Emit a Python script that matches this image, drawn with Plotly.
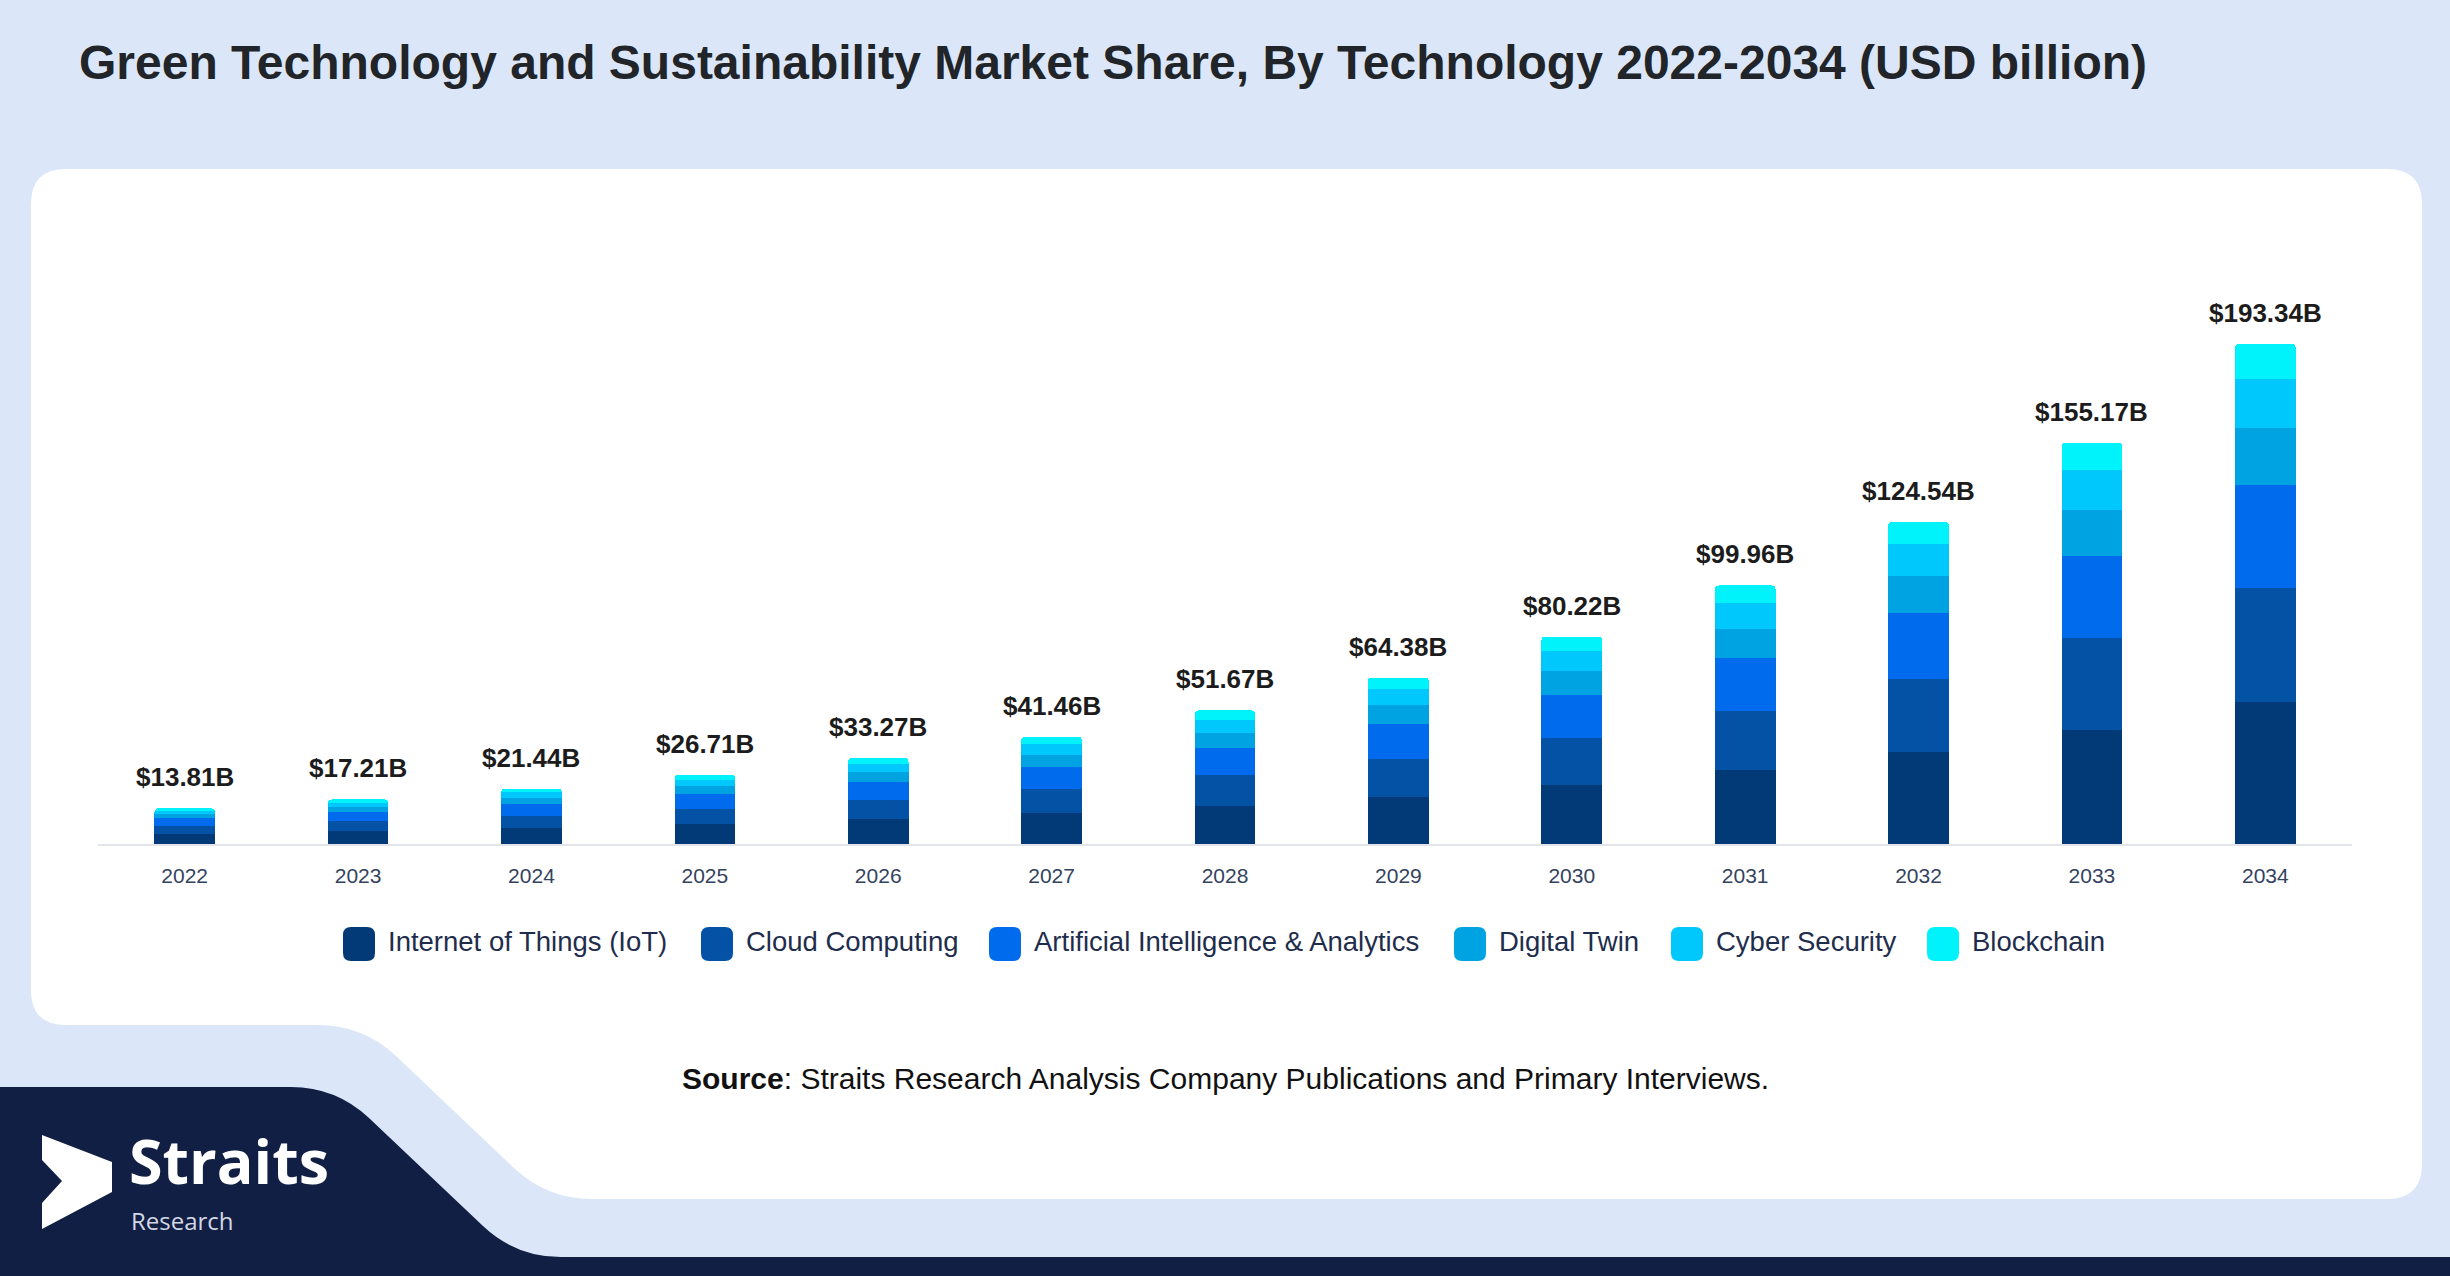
import plotly.graph_objects as go

# ---------------- data ----------------
years = ["2022", "2023", "2024", "2025", "2026", "2027", "2028",
         "2029", "2030", "2031", "2032", "2033", "2034"]
totals = [13.81, 17.21, 21.44, 26.71, 33.27, 41.46, 51.67,
          64.38, 80.22, 99.96, 124.54, 155.17, 193.34]
total_labels = ["$13.81B", "$17.21B", "$21.44B", "$26.71B", "$33.27B", "$41.46B", "$51.67B",
                "$64.38B", "$80.22B", "$99.96B", "$124.54B", "$155.17B", "$193.34B"]

iot = [3.94, 4.90, 6.11, 7.61, 9.48, 11.82, 14.73, 18.35, 22.86, 28.49, 35.49, 44.22, 55.10]
cloud = [3.15, 3.92, 4.89, 6.09, 7.59, 9.45, 11.78, 14.68, 18.29, 22.79, 28.40, 35.38, 44.08]
ai_analytics = [2.83, 3.53, 4.40, 5.48, 6.82, 8.50, 10.59, 13.20, 16.45, 20.49, 25.53, 31.81, 39.63]
digital_twin = [1.59, 1.98, 2.47, 3.07, 3.83, 4.77, 5.94, 7.40, 9.23, 11.50, 14.32, 17.84, 22.23]
cyber_security = [1.35, 1.69, 2.10, 2.62, 3.26, 4.06, 5.06, 6.31, 7.86, 9.80, 12.20, 15.21, 18.95]
blockchain = [0.95, 1.19, 1.47, 1.84, 2.29, 2.86, 3.57, 4.44, 5.53, 6.89, 8.60, 10.71, 13.35]

series_names = ["Internet of Things (IoT)", "Cloud Computing",
                "Artificial Intelligence & Analytics", "Digital Twin",
                "Cyber Security", "Blockchain"]
series_values = [iot, cloud, ai_analytics, digital_twin, cyber_security, blockchain]

title_text = "Green Technology and Sustainability Market Share, By Technology 2022-2034 (USD billion)"
source_text = "<b>Source</b>: Straits Research Analysis Company Publications and Primary Interviews."

# ---------------- style ----------------
colors = ["#023a78", "#0352a6", "#006ced", "#00a3e2", "#00c8fd", "#00f3fb"]
FONT = "Liberation Sans, Arial, Helvetica, sans-serif"
LOGO_FONT = "Open Sans, sans-serif"
BG = "#dbe7f8"
NAVY = "#121f45"

W, H = 2450, 1276
ML, MR, MT, MB = 98, 98, 169, 432


def px(x):
    return (x - ML) / (W - ML - MR)


def py(y):
    return (H - MB - y) / (H - MT - MB)


def path(cmds):
    out = []
    for c, pts in cmds:
        coords = []
        for i in range(0, len(pts), 2):
            coords.append(f"{px(pts[i]):.5f},{py(pts[i + 1]):.5f}")
        out.append(c + " " + " ".join(coords) if coords else c)
    return " ".join(out)


fig = go.Figure()
for name, vals, col in zip(series_names, series_values, colors):
    fig.add_trace(go.Bar(x=years, y=vals, name=name,
                         marker=dict(color=col, line=dict(width=0)),
                         showlegend=False))

shapes = []
# white card
card = path([
    ("M", [66, 169]), ("L", [2387, 169]), ("Q", [2422, 169, 2422, 204]),
    ("L", [2422, 1164]), ("Q", [2422, 1199, 2387, 1199]),
    ("L", [592, 1199]), ("Q", [547, 1199, 514, 1168]),
    ("L", [396, 1056]), ("Q", [363, 1025, 318, 1025]),
    ("L", [66, 1025]), ("Q", [31, 1025, 31, 990]),
    ("L", [31, 204]), ("Q", [31, 169, 66, 169]), ("Z", []),
])
shapes.append(dict(type="path", path=card, xref="paper", yref="paper",
                   fillcolor="white", line=dict(width=0), layer="below"))
# navy footer band
navy = path([
    ("M", [0, 1087]), ("L", [291, 1087]), ("Q", [336, 1087, 369, 1118]),
    ("L", [483, 1226]), ("Q", [516, 1257, 561, 1257]),
    ("L", [2450, 1257]), ("L", [2450, 1276]), ("L", [0, 1276]), ("Z", []),
])
shapes.append(dict(type="path", path=navy, xref="paper", yref="paper",
                   fillcolor=NAVY, line=dict(width=0), layer="below"))
# logo chevron
chev = path([
    ("M", [42, 1135]), ("L", [112, 1162]), ("L", [112, 1192]), ("L", [42, 1229]),
    ("L", [42, 1203]), ("L", [62, 1181]), ("L", [42, 1160]), ("Z", []),
])
shapes.append(dict(type="path", path=chev, xref="paper", yref="paper",
                   fillcolor="white", line=dict(width=0), layer="below"))

annotations = []
# value labels (x given as category index)
for i, (tot, lab) in enumerate(zip(totals, total_labels)):
    annotations.append(dict(x=i, y=tot, xref="x", yref="y", text=lab,
                            showarrow=False, yanchor="bottom", yshift=14,
                            font=dict(family=FONT, size=26, color="#1c1c1c", weight="bold")))

# manual legend
legend_x = [343, 701, 989, 1454, 1671, 1927]
leg_y = 944
for sx, name, col in zip(legend_x, series_names, colors):
    x0, x1, y0, y1, r = sx, sx + 32, leg_y - 17, leg_y + 17, 8
    sw = path([
        ("M", [x0 + r, y0]), ("L", [x1 - r, y0]), ("Q", [x1, y0, x1, y0 + r]),
        ("L", [x1, y1 - r]), ("Q", [x1, y1, x1 - r, y1]),
        ("L", [x0 + r, y1]), ("Q", [x0, y1, x0, y1 - r]),
        ("L", [x0, y0 + r]), ("Q", [x0, y0, x0 + r, y0]), ("Z", []),
    ])
    shapes.append(dict(type="path", path=sw, xref="paper", yref="paper",
                       fillcolor=col, line=dict(width=0)))
    annotations.append(dict(x=px(sx + 43), y=py(leg_y - 2), xref="paper", yref="paper",
                            text=name, showarrow=False, xanchor="left", yanchor="middle",
                            font=dict(family=FONT, size=27.5, color="#1f2d4d")))

# title
annotations.append(dict(x=px(77), y=py(62), xref="paper", yref="paper", text=title_text,
                        showarrow=False, xanchor="left", yanchor="middle",
                        font=dict(family=FONT, size=48, color="#212529", weight="bold")))
# source
annotations.append(dict(x=px(1225), y=py(1078), xref="paper", yref="paper", text=source_text,
                        showarrow=False, xanchor="center", yanchor="middle",
                        font=dict(family=FONT, size=30, color="#111111")))
# logo text
annotations.append(dict(x=px(128), y=py(1160), xref="paper", yref="paper", text="Straits",
                        showarrow=False, xanchor="left", yanchor="middle", borderpad=0,
                        font=dict(family=LOGO_FONT, size=61, color="white", weight="bold")))
annotations.append(dict(x=px(130), y=py(1220), xref="paper", yref="paper", text="Research",
                        showarrow=False, xanchor="left", yanchor="middle", borderpad=0,
                        font=dict(family=LOGO_FONT, size=24, color="#d3d8e4")))

fig.update_layout(
    width=W, height=H, autosize=False,
    margin=dict(l=ML, r=MR, t=MT, b=MB, pad=0),
    paper_bgcolor=BG, plot_bgcolor="rgba(0,0,0,0)",
    barmode="stack", bargap=0.65, barcornerradius=4,
    showlegend=False,
    font=dict(family=FONT),
    shapes=shapes, annotations=annotations,
    xaxis=dict(type="category", range=[-0.5, len(years) - 0.5], autorange=False,
               showgrid=False, zeroline=False,
               showline=True, linecolor="#e2e5ea", linewidth=2,
               ticks="", ticklabelstandoff=12,
               tickfont=dict(family=FONT, size=21, color="#34435e")),
    yaxis=dict(range=[0, 261], autorange=False, visible=False, showgrid=False, zeroline=False),
)

fig.write_html("out.html", config={"displayModeBar": False},
               post_script="document.body.style.margin='0';document.body.style.overflow='hidden';")
